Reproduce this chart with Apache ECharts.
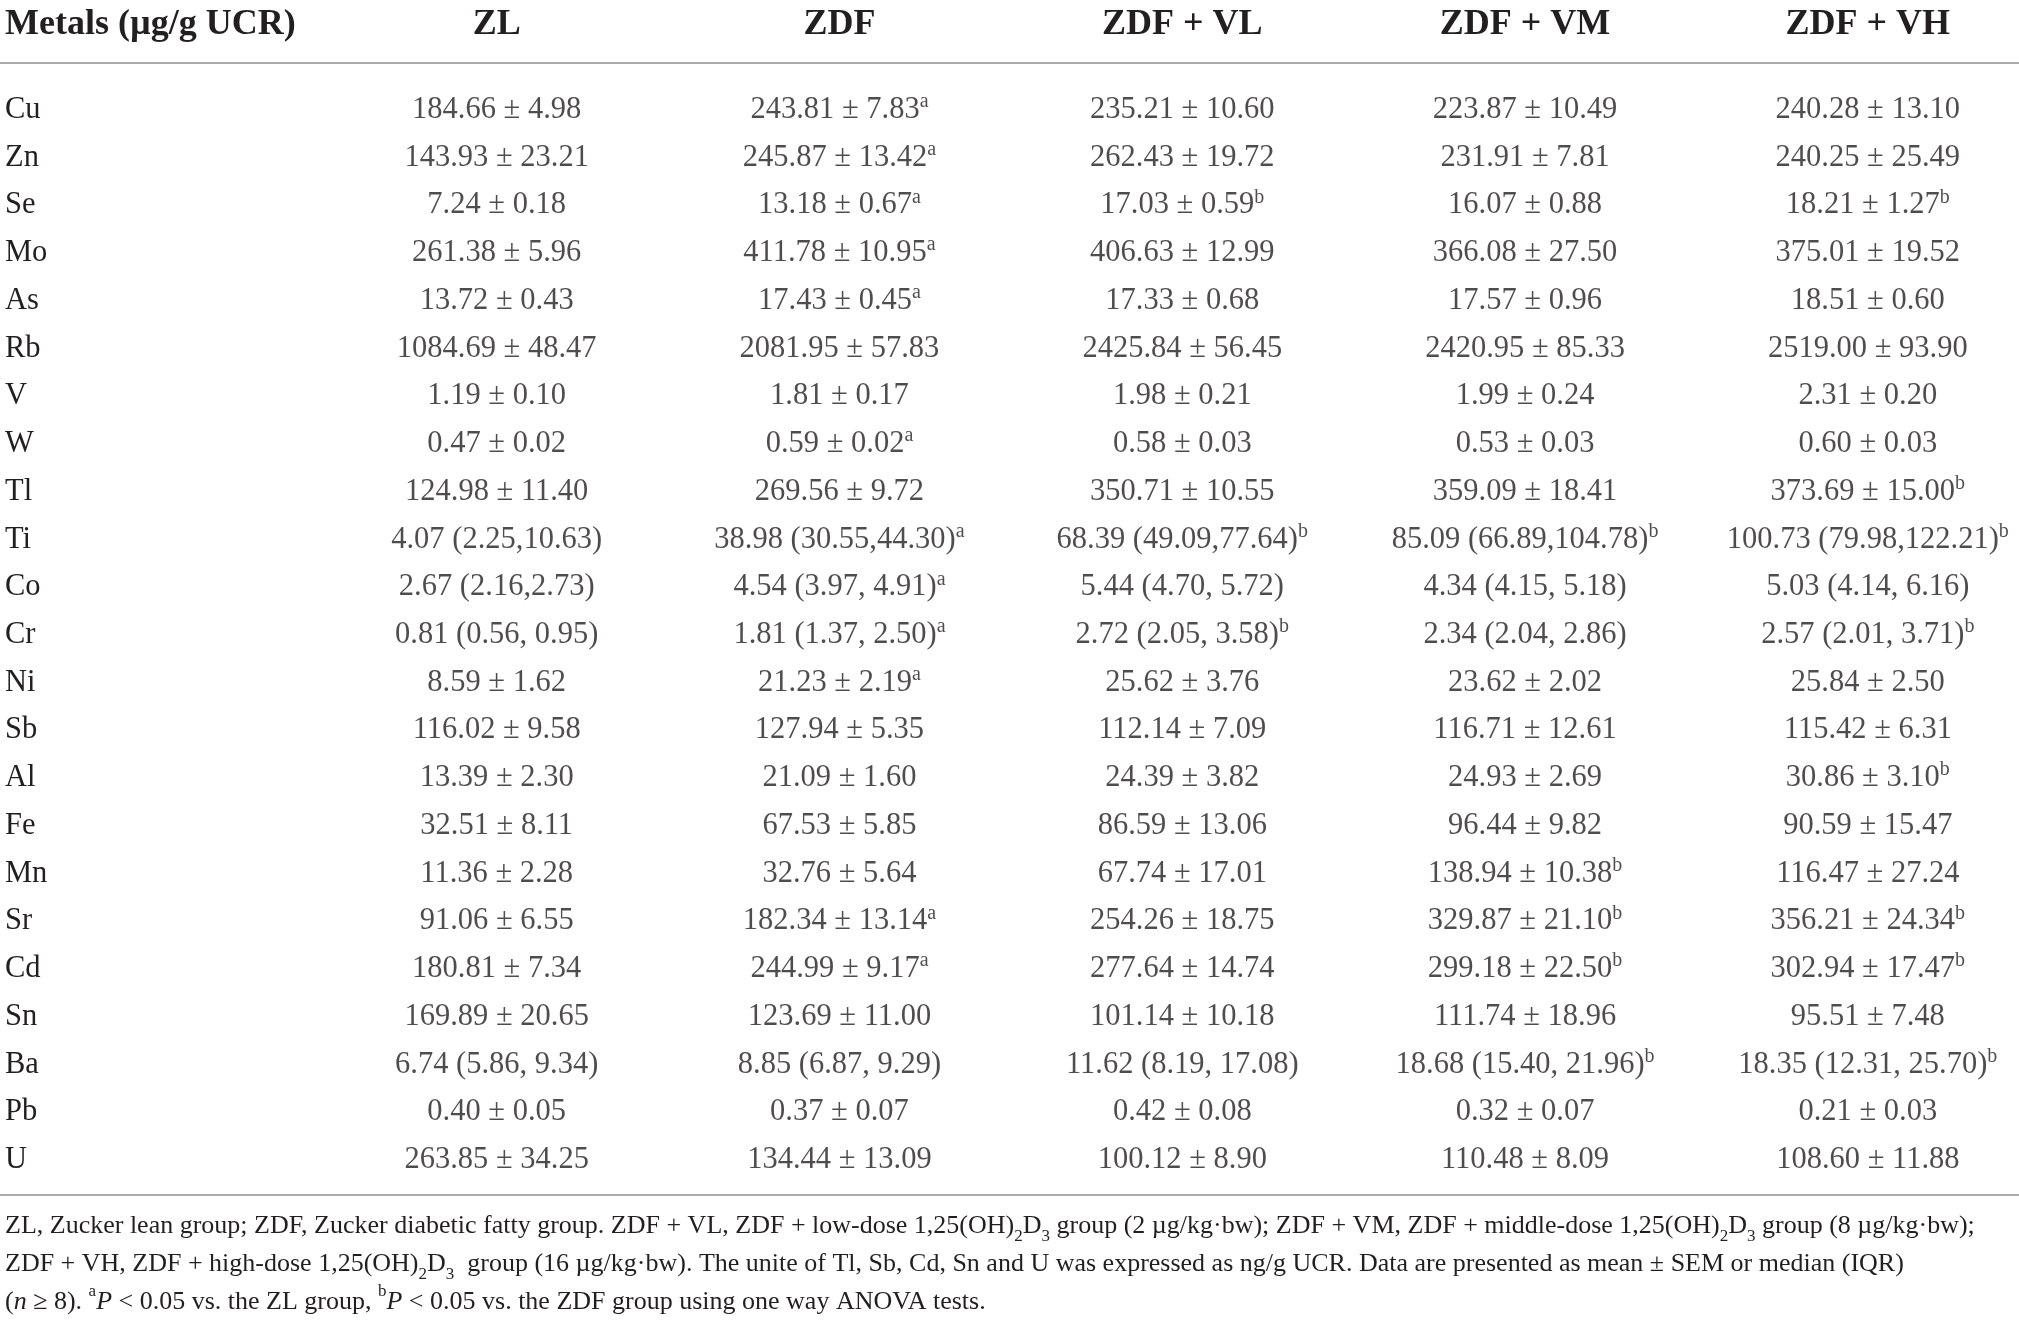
<!DOCTYPE html>
<html>
<head>
<meta charset="utf-8">
<title>Urinary metals</title>
<script src="https://cdn.jsdelivr.net/npm/echarts@6/dist/echarts.min.js"></script>
<style>
html, body { margin: 0; padding: 0; background: #fff; }
#main { width: 2019px; height: 1322px; }
</style>
</head>
<body>
<div id="main"></div>
<script>
// table contents, "^x" marks a superscript note letter
var groups = ['ZL', 'ZDF', 'ZDF + VL', 'ZDF + VM', 'ZDF + VH'];
var metals = ['Cu', 'Zn', 'Se', 'Mo', 'As', 'Rb', 'V', 'W', 'Tl', 'Ti', 'Co', 'Cr',
	'Ni', 'Sb', 'Al', 'Fe', 'Mn', 'Sr', 'Cd', 'Sn', 'Ba', 'Pb', 'U'];

var zl = ['184.66 ± 4.98', '143.93 ± 23.21', '7.24 ± 0.18', '261.38 ± 5.96', '13.72 ± 0.43',
	'1084.69 ± 48.47', '1.19 ± 0.10', '0.47 ± 0.02', '124.98 ± 11.40', '4.07 (2.25,10.63)',
	'2.67 (2.16,2.73)', '0.81 (0.56, 0.95)', '8.59 ± 1.62', '116.02 ± 9.58', '13.39 ± 2.30',
	'32.51 ± 8.11', '11.36 ± 2.28', '91.06 ± 6.55', '180.81 ± 7.34', '169.89 ± 20.65',
	'6.74 (5.86, 9.34)', '0.40 ± 0.05', '263.85 ± 34.25'];

var zdf = ['243.81 ± 7.83^a', '245.87 ± 13.42^a', '13.18 ± 0.67^a', '411.78 ± 10.95^a', '17.43 ± 0.45^a',
	'2081.95 ± 57.83', '1.81 ± 0.17', '0.59 ± 0.02^a', '269.56 ± 9.72', '38.98 (30.55,44.30)^a',
	'4.54 (3.97, 4.91)^a', '1.81 (1.37, 2.50)^a', '21.23 ± 2.19^a', '127.94 ± 5.35', '21.09 ± 1.60',
	'67.53 ± 5.85', '32.76 ± 5.64', '182.34 ± 13.14^a', '244.99 ± 9.17^a', '123.69 ± 11.00',
	'8.85 (6.87, 9.29)', '0.37 ± 0.07', '134.44 ± 13.09'];

var zdfVL = ['235.21 ± 10.60', '262.43 ± 19.72', '17.03 ± 0.59^b', '406.63 ± 12.99', '17.33 ± 0.68',
	'2425.84 ± 56.45', '1.98 ± 0.21', '0.58 ± 0.03', '350.71 ± 10.55', '68.39 (49.09,77.64)^b',
	'5.44 (4.70, 5.72)', '2.72 (2.05, 3.58)^b', '25.62 ± 3.76', '112.14 ± 7.09', '24.39 ± 3.82',
	'86.59 ± 13.06', '67.74 ± 17.01', '254.26 ± 18.75', '277.64 ± 14.74', '101.14 ± 10.18',
	'11.62 (8.19, 17.08)', '0.42 ± 0.08', '100.12 ± 8.90'];

var zdfVM = ['223.87 ± 10.49', '231.91 ± 7.81', '16.07 ± 0.88', '366.08 ± 27.50', '17.57 ± 0.96',
	'2420.95 ± 85.33', '1.99 ± 0.24', '0.53 ± 0.03', '359.09 ± 18.41', '85.09 (66.89,104.78)^b',
	'4.34 (4.15, 5.18)', '2.34 (2.04, 2.86)', '23.62 ± 2.02', '116.71 ± 12.61', '24.93 ± 2.69',
	'96.44 ± 9.82', '138.94 ± 10.38^b', '329.87 ± 21.10^b', '299.18 ± 22.50^b', '111.74 ± 18.96',
	'18.68 (15.40, 21.96)^b', '0.32 ± 0.07', '110.48 ± 8.09'];

var zdfVH = ['240.28 ± 13.10', '240.25 ± 25.49', '18.21 ± 1.27^b', '375.01 ± 19.52', '18.51 ± 0.60',
	'2519.00 ± 93.90', '2.31 ± 0.20', '0.60 ± 0.03', '373.69 ± 15.00^b', '100.73 (79.98,122.21)^b',
	'5.03 (4.14, 6.16)', '2.57 (2.01, 3.71)^b', '25.84 ± 2.50', '115.42 ± 6.31', '30.86 ± 3.10^b',
	'90.59 ± 15.47', '116.47 ± 27.24', '356.21 ± 24.34^b', '302.94 ± 17.47^b', '95.51 ± 7.48',
	'18.35 (12.31, 25.70)^b', '0.21 ± 0.03', '108.60 ± 11.88'];

var columns = [zl, zdf, zdfVL, zdfVM, zdfVH];
var colIndex = [1, 2, 3, 4, 5];

var footnote = [
	'ZL, Zucker lean group; ZDF, Zucker diabetic fatty group. ZDF + VL, ZDF + low-dose 1,25(OH){sub|2}D{sub|3} group (2 µg/kg·bw); ZDF + VM, ZDF + middle-dose 1,25(OH){sub|2}D{sub|3} group (8 µg/kg·bw);',
	'ZDF + VH, ZDF + high-dose 1,25(OH){sub|2}D{sub|3}  group (16 µg/kg·bw). The unite of Tl, Sb, Cd, Sn and U was expressed as ng/g UCR. Data are presented as mean ± SEM or median (IQR)',
	'({i|n} ≥ 8). {sup|a}{i|P} < 0.05 vs. the ZL group, {sup|b}{i|P} < 0.05 vs. the ZDF group using one way ANOVA tests.'
];

var FONT = 'Liberation Serif';
var INK = '#231f20';
var RULE = '#8f8f8f';

function cellText(s) {
	var parts = s.split('^');
	var out = '{v|' + parts[0] + '}';
	if (parts.length > 1) out += '{s|' + parts[1] + '}';
	return out;
}

var series = [];
for (var c = 0; c < columns.length; c++) {
	var data = [];
	for (var r = 0; r < metals.length; r++) {
		data.push({ value: [colIndex[c], r], cell: columns[c][r] });
	}
	series.push({
		type: 'scatter',
		symbolSize: 1,
		silent: true,
		itemStyle: { color: 'rgba(0,0,0,0)' },
		label: {
			show: true,
			position: 'inside',
			formatter: function (p) { return cellText(p.data.cell); },
			rich: {
				v: { fontFamily: FONT, fontSize: 30.5, lineHeight: 36, color: INK },
				s: { fontFamily: FONT, fontSize: 20, lineHeight: 24, color: INK, verticalAlign: 'top' }
			}
		},
		data: data
	});
}

// column span of the table (in column units)
var X_MIN = -0.449, X_MAX = 5.441;

var myChart = echarts.init(document.getElementById('main'));
var option = {
	backgroundColor: '#fff',
	animation: false,
	title: [{
		text: 'Metals (µg/g UCR)',
		left: 5,
		top: 7,
		padding: 0,
		textStyle: { fontFamily: FONT, fontSize: 36, fontWeight: 'bold', color: INK }
	}, {
		text: footnote.join('\n'),
		left: 5,
		top: 1207,
		padding: 0,
		textStyle: {
			fontFamily: FONT, fontSize: 26, fontWeight: 'normal', color: INK, lineHeight: 38,
			rich: {
				sub: { fontFamily: FONT, fontSize: 17, lineHeight: 24, color: INK, verticalAlign: 'bottom' },
				sup: { fontFamily: FONT, fontSize: 17, lineHeight: 23, color: INK, verticalAlign: 'top' },
				i: { fontFamily: FONT, fontSize: 26, lineHeight: 38, color: INK, fontStyle: 'italic' }
			}
		}
	}],
	grid: { left: 0, right: 0, top: 86, bottom: 138 },
	xAxis: [{
		type: 'value',
		min: X_MIN,
		max: X_MAX,
		position: 'top',
		offset: 23,
		axisLine: { show: true, onZero: false, lineStyle: { color: RULE, width: 1.5 } },
		axisTick: { show: false },
		splitLine: { show: false },
		axisLabel: {
			customValues: colIndex,
			formatter: function (v) { return groups[Math.round(v) - 1] || ''; },
			margin: 20,
			fontFamily: FONT, fontSize: 36, fontWeight: 'bold', color: INK, lineHeight: 36
		}
	}, {
		type: 'value',
		min: X_MIN,
		max: X_MAX,
		position: 'bottom',
		offset: 11,
		axisLine: { show: true, onZero: false, lineStyle: { color: RULE, width: 1.5 } },
		axisTick: { show: false },
		splitLine: { show: false },
		axisLabel: { show: false }
	}],
	yAxis: {
		type: 'category',
		data: metals,
		inverse: true,
		axisLine: { show: false },
		axisTick: { show: false },
		splitLine: { show: false },
		axisLabel: {
			inside: true,
			margin: 5,
			fontFamily: FONT, fontSize: 30.5, color: INK
		}
	},
	series: series
};
myChart.setOption(option);
</script>
</body>
</html>
